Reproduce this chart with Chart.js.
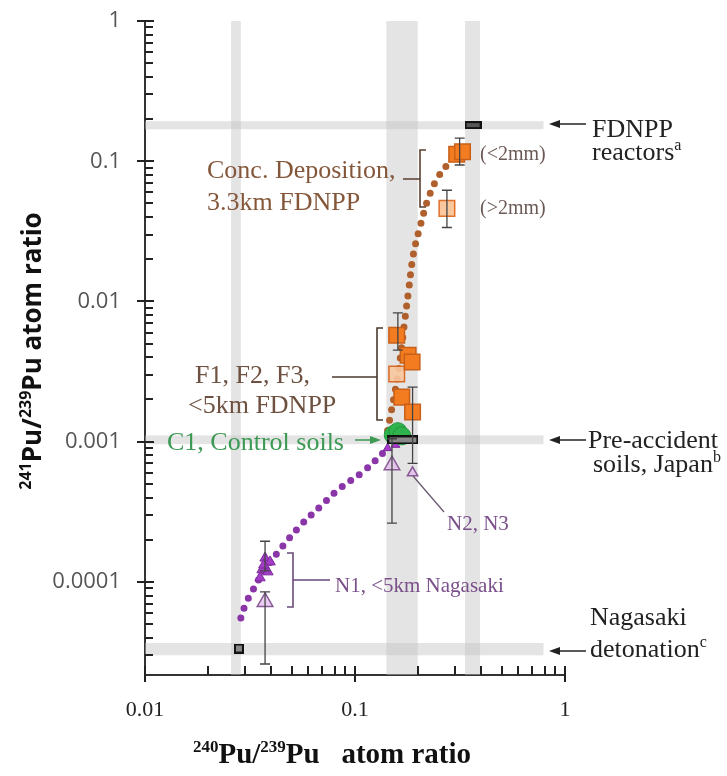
<!DOCTYPE html>
<html>
<head>
<meta charset="utf-8">
<script src="https://cdn.jsdelivr.net/npm/chart.js@4.4.1/dist/chart.umd.min.js"></script>
<style>
  body { margin: 0; background: #fff; }
  #grafico { display: block; }
</style>
</head>
<body>
<canvas id="grafico" width="727" height="776"></canvas>
<script>
// x = 240Pu/239Pu, y = 241Pu/239Pu (atom ratios)
const xTickLabels = ['0.01', '0.1', '1'];
const yTickLabels = ['0.0001', '0.001', '0.01', '0.1', '1'];

// Conc. deposition, 3.3 km FDNPP
const concX = [0.305, 0.325];
const concY = [0.112, 0.117];
const concOpenX = [0.274];
const concOpenY = [0.0461];
// F1, F2, F3
const fX = [0.158, 0.179, 0.187, 0.167, 0.188];
const fY = [0.00575, 0.00414, 0.0037, 0.00208, 0.00163];
const fOpenX = [0.158];
const fOpenY = [0.00304];
// C1 control soils
const c1X = [0.152, 0.160, 0.167];
const c1Y = [0.00112, 0.00118, 0.00110];
// N1 (filled), N2/N3 small filled
const n1X = [0.0373, 0.0394, 0.0361, 0.0385, 0.0353, 0.0368];
const n1Y = [0.000148, 0.000139, 0.000122, 0.000118, 0.000107, 0.000132];
const n23X = [0.143, 0.156];
const n23Y = [0.0009, 0.00095];
// open triangles
const nOpenX = [0.0373, 0.150, 0.188];
const nOpenY = [0.000072, 0.00068, 0.0006];
// reference values: FDNPP reactors, pre-accident soils, Nagasaki detonation
const refX = [0.365, 0.169, 0.028];
const refY = [0.181, 0.00103, 0.0000335];

// dotted mixing lines
const mixNX = [0.0286, 0.0302, 0.0323, 0.037, 0.0454, 0.056, 0.0689, 0.084, 0.109, 0.1436];
const mixNY = [0.0000553, 0.00007, 0.000085, 0.00012, 0.000181, 0.00026, 0.000349, 0.000461, 0.00061, 0.0009];
const mixFX = [0.143, 0.16, 0.172, 0.18, 0.19, 0.205, 0.225, 0.25, 0.28, 0.30];
const mixFY = [0.0012, 0.003, 0.007, 0.012, 0.022, 0.035, 0.056, 0.078, 0.097, 0.108];

// error bars
const errX = [0.315, 0.274, 0.160, 0.188, 0.0373, 0.0373, 0.150];
const errLow = [0.094, 0.0337, 0.0045, 0.0007, 0.00012, 0.000026, 0.000263];
const errHigh = [0.146, 0.0621, 0.0083, 0.00245, 0.000195, 0.000085, 0.00105];

// gray ranges
const bandsX = [[0.0257, 0.0286], [0.141, 0.199], [0.334, 0.394]];
const bandsY = [[0.169, 0.193], [0.00096, 0.00111], [0.00003, 0.0000367]];
const bandYEnd = 0.79;

const pts = (xs, ys) => xs.map((x, i) => ({x, y: ys[i]}));
const isDecade = v => Math.abs(Math.log10(v) - Math.round(Math.log10(v))) < 1e-6;

// 1..9 x 10^n between the scale limits
function logTicks(s) {
  const out = [];
  for (let e = Math.floor(Math.log10(s.min)); e <= Math.ceil(Math.log10(s.max)); e++) {
    for (let k = 1; k <= 9; k++) {
      const v = k * Math.pow(10, e);
      if (v >= s.min * 0.999 && v <= s.max * 1.001) out.push(v);
    }
  }
  return out;
}

function caixa(w, h, fill) {
  const c = document.createElement('canvas');
  c.width = w; c.height = h;
  const g = c.getContext('2d');
  g.fillStyle = fill;
  g.fillRect(0, 0, w, h);
  g.strokeStyle = '#111';
  g.lineWidth = 2;
  g.strokeRect(1, 1, w - 2, h - 2);
  return c;
}

const SERIF = '"Liberation Serif", serif';
const SANS = '"Open Sans", sans-serif';

function richText(ctx, parts, x, y, size, family, weight, align) {
  const fontFor = sup => `${weight} ${sup ? Math.round(size * 0.6) : size}px ${family}`;
  let w = 0;
  parts.forEach(p => {
    const sup = p.startsWith('^');
    ctx.font = fontFor(sup);
    w += ctx.measureText(sup ? p.slice(1) : p).width;
  });
  let cx = align === 'center' ? x - w / 2 : x;
  ctx.textAlign = 'left';
  ctx.textBaseline = 'alphabetic';
  parts.forEach(p => {
    const sup = p.startsWith('^');
    const t = sup ? p.slice(1) : p;
    ctx.font = fontFor(sup);
    ctx.fillText(t, cx, sup ? y - size * 0.38 : y);
    cx += ctx.measureText(t).width;
  });
}

function seta(ctx, x1, y, x2, cor) {
  // arrow from x1 to x2 with head at x2
  const dir = x2 > x1 ? 1 : -1;
  ctx.strokeStyle = cor; ctx.fillStyle = cor; ctx.lineWidth = 1.5;
  ctx.beginPath(); ctx.moveTo(x1, y); ctx.lineTo(x2 - dir * 8, y); ctx.stroke();
  ctx.beginPath(); ctx.moveTo(x2, y); ctx.lineTo(x2 - dir * 11, y - 4); ctx.lineTo(x2 - dir * 11, y + 4); ctx.closePath(); ctx.fill();
}

function colchete(ctx, x, y1, y2, hook, stubFrom, stubY, cor) {
  ctx.strokeStyle = cor; ctx.lineWidth = 1.6;
  ctx.beginPath();
  ctx.moveTo(x + hook, y1); ctx.lineTo(x, y1); ctx.lineTo(x, y2); ctx.lineTo(x + hook, y2);
  ctx.moveTo(stubFrom, stubY); ctx.lineTo(x, stubY);
  ctx.stroke();
}

const faixas = {
  id: 'faixas',
  beforeDatasetsDraw(chart) {
    const {ctx, chartArea: a, scales: {x, y}} = chart;
    ctx.save();
    ctx.fillStyle = 'rgba(195,195,195,0.45)';
    bandsX.forEach(([lo, hi]) => {
      const p1 = x.getPixelForValue(lo), p2 = x.getPixelForValue(hi);
      ctx.fillRect(p1, a.top, p2 - p1, a.bottom - a.top);
    });
    const xe = x.getPixelForValue(bandYEnd);
    bandsY.forEach(([lo, hi]) => {
      const p1 = y.getPixelForValue(hi), p2 = y.getPixelForValue(lo);
      ctx.fillRect(a.left, p1, xe - a.left, p2 - p1);
    });
    ctx.restore();
  },
  afterDatasetsDraw(chart) {
    const {ctx, chartArea: a, scales: {x, y}} = chart;
    ctx.save();
    ctx.strokeStyle = '#444';
    ctx.lineWidth = 1.3;
    errX.forEach((v, i) => {
      const px = x.getPixelForValue(v);
      const lo = y.getPixelForValue(errLow[i]), hi = y.getPixelForValue(errHigh[i]);
      ctx.beginPath();
      ctx.moveTo(px, lo); ctx.lineTo(px, hi);
      ctx.moveTo(px - 5, lo); ctx.lineTo(px + 5, lo);
      ctx.moveTo(px - 5, hi); ctx.lineTo(px + 5, hi);
      ctx.stroke();
    });

    // tick marks: decades cross the axis, 2..9 point inwards
    ctx.fillStyle = '#222';
    const base = Math.round(a.bottom);
    logTicks(x).forEach(v => {
      const px = Math.round(x.getPixelForValue(v));
      ctx.fillRect(px - 1, base - 9, 2, isDecade(v) ? 16 : 9);
    });
    const left = Math.round(a.left);
    logTicks(y).forEach(v => {
      const py = Math.round(y.getPixelForValue(v));
      const maj = isDecade(v);
      ctx.fillRect(left - (maj ? 8 : 0), py - 1, maj ? 17 : 8, 2);
    });
    ctx.restore();
  }
};

const textos = {
  id: 'textos',
  afterDraw(chart) {
    const {ctx} = chart;
    ctx.save();

    // axis titles
    ctx.fillStyle = '#111';
    richText(ctx, ['^240', 'Pu/', '^239', 'Pu   atom ratio'], 332, 763, 29, SERIF, 'bold', 'center');
    ctx.save();
    ctx.translate(41, 351);
    ctx.rotate(-Math.PI / 2);
    richText(ctx, ['^241', 'Pu/', '^239', 'Pu atom ratio'], 0, 0, 26, SANS, 'bold', 'center');
    ctx.restore();

    // annotations
    ctx.fillStyle = '#85573a';
    richText(ctx, ['Conc. Deposition,'], 207, 178, 26, SERIF, 'normal');
    richText(ctx, ['3.3km FDNPP'], 207, 210, 26, SERIF, 'normal');
    colchete(ctx, 420, 150, 207, 6, 403, 179, '#5a4030');

    ctx.fillStyle = '#6a5a55';
    richText(ctx, ['(<2mm)'], 480, 160, 20, SERIF, 'normal');
    richText(ctx, ['(>2mm)'], 480, 214, 20, SERIF, 'normal');

    ctx.fillStyle = '#6e5040';
    richText(ctx, ['F1, F2, F3,'], 195, 383, 26, SERIF, 'normal');
    richText(ctx, ['<5km FDNPP'], 188, 413, 26, SERIF, 'normal');
    colchete(ctx, 377, 328, 420, 6, 332, 377, '#4a3a30');

    ctx.fillStyle = '#3d9a55';
    richText(ctx, ['C1, Control soils'], 167, 450, 26, SERIF, 'normal');
    seta(ctx, 355, 440, 381, '#3d9a55');

    const roxo = '#7a4f8a';
    ctx.fillStyle = roxo;
    richText(ctx, ['N2, N3'], 447, 530, 21, SERIF, 'normal');
    ctx.strokeStyle = '#6a5a70'; ctx.lineWidth = 1.3;
    ctx.beginPath(); ctx.moveTo(413, 476); ctx.lineTo(444, 512); ctx.stroke();
    ctx.fillStyle = roxo;
    richText(ctx, ['N1, <5km Nagasaki'], 335, 592, 21, SERIF, 'normal');
    colchete(ctx, 293, 553, 607, -6, 330, 580, '#6a4a7a');

    ctx.fillStyle = '#222';
    richText(ctx, ['FDNPP'], 592, 137, 26, SERIF, 'normal');
    richText(ctx, ['reactors', '^a'], 592, 160, 26, SERIF, 'normal');
    richText(ctx, ['Pre-accident'], 588, 448, 26, SERIF, 'normal');
    richText(ctx, ['soils, Japan', '^b'], 593, 472, 26, SERIF, 'normal');
    richText(ctx, ['Nagasaki'], 590, 625, 26, SERIF, 'normal');
    richText(ctx, ['detonation', '^c'], 590, 657, 26, SERIF, 'normal');
    seta(ctx, 586, 124, 549, '#222');
    seta(ctx, 586, 440, 549, '#222');
    seta(ctx, 586, 651, 549, '#222');
    ctx.restore();
  }
};

const laranja = '#f47c20';
const laranjaBorda = '#c8601a';

const grafico = document.getElementById('grafico');
const ctx = grafico.getContext('2d');

const myChart = new Chart(ctx, {
  type: 'scatter',
  data: {
    datasets: [
      {
        label: 'Reference values',
        data: pts(refX, refY),
        pointStyle: [caixa(17, 8, '#555'), caixa(31, 9, '#888'), caixa(10, 10, '#888')],
        order: 0
      },
      {
        label: 'C1',
        data: pts(c1X, c1Y),
        pointStyle: 'circle',
        pointRadius: 9,
        backgroundColor: '#2fb34c',
        borderColor: '#24933d',
        borderWidth: 1,
        order: 1
      },
      {
        label: 'Conc. deposition',
        data: pts(concX, concY),
        pointStyle: 'rect',
        pointRadius: 11,
        backgroundColor: laranja,
        borderColor: laranjaBorda,
        borderWidth: 1.5,
        order: 2
      },
      {
        label: 'Conc. deposition >2mm',
        data: pts(concOpenX, concOpenY),
        pointStyle: 'rect',
        pointRadius: 11,
        backgroundColor: 'rgba(250,190,140,0.85)',
        borderColor: '#e0702a',
        borderWidth: 1.5,
        order: 2
      },
      {
        label: 'F1-F3',
        data: pts(fX, fY),
        pointStyle: 'rect',
        pointRadius: 11,
        backgroundColor: laranja,
        borderColor: laranjaBorda,
        borderWidth: 1.5,
        order: 2
      },
      {
        label: 'F1-F3 open',
        data: pts(fOpenX, fOpenY),
        pointStyle: 'rect',
        pointRadius: 11,
        backgroundColor: 'rgba(250,200,160,0.9)',
        borderColor: '#d86a26',
        borderWidth: 1.5,
        order: 2
      },
      {
        label: 'N1',
        data: pts(n1X, n1Y),
        pointStyle: 'triangle',
        pointRadius: 6,
        backgroundColor: '#a43cc8',
        borderColor: '#7e2a9c',
        borderWidth: 1,
        order: 3
      },
      {
        label: 'N2, N3 small',
        data: pts(n23X, n23Y),
        pointStyle: 'triangle',
        pointRadius: 5,
        backgroundColor: '#a43cc8',
        borderColor: '#7e2a9c',
        borderWidth: 1,
        order: 3
      },
      {
        label: 'N open',
        data: pts(nOpenX, nOpenY),
        pointStyle: 'triangle',
        pointRadius: [9, 9, 6],
        backgroundColor: 'rgba(225,185,235,0.7)',
        borderColor: '#8a5a98',
        borderWidth: 1.5,
        order: 3
      },
      {
        label: 'Mixing N',
        data: pts(mixNX, mixNY),
        showLine: true,
        pointRadius: 0,
        borderColor: '#8a36a8',
        borderWidth: 7,
        borderDash: [0, 10.5],
        borderCapStyle: 'round',
        tension: 0.4,
        order: 5
      },
      {
        label: 'Mixing F',
        data: pts(mixFX, mixFY),
        showLine: true,
        pointRadius: 0,
        borderColor: '#b0602c',
        borderWidth: 7,
        borderDash: [0, 10.5],
        borderCapStyle: 'round',
        tension: 0.4,
        order: 5
      }
    ]
  },
  options: {
    responsive: false,
    animation: false,
    devicePixelRatio: 1,
    events: [],
    layout: { padding: { top: 21, right: 162, left: 0, bottom: 0 } },
    plugins: { legend: { display: false }, tooltip: { enabled: false } },
    scales: {
      x: {
        type: 'logarithmic',
        min: 0.01,
        max: 1,
        grid: { display: false, drawTicks: false },
        border: { display: true, color: '#333', width: 2 },
        afterFit: s => { s.height = 101; s.paddingLeft = 0; s.paddingRight = 0; },
        ticks: {
          autoSkip: false,
          maxRotation: 0,
          padding: 22,
          color: '#222',
          font: { family: SERIF, size: 22 },
          callback: v => isDecade(v) ? (xTickLabels[Math.round(Math.log10(v)) + 2] ?? '') : ''
        }
      },
      y: {
        type: 'logarithmic',
        min: 0.0000217,
        max: 1,
        grid: { display: false, drawTicks: false },
        border: { display: true, color: '#333', width: 2 },
        afterFit: s => { s.width = 145; s.paddingTop = 0; s.paddingBottom = 0; },
        ticks: {
          autoSkip: false,
          padding: 24,
          color: '#555',
          font: { family: SANS, size: 22 },
          callback: v => isDecade(v) ? (yTickLabels[Math.round(Math.log10(v)) + 4] ?? '') : ''
        }
      }
    }
  },
  plugins: [faixas, textos]
});
</script>
</body>
</html>
